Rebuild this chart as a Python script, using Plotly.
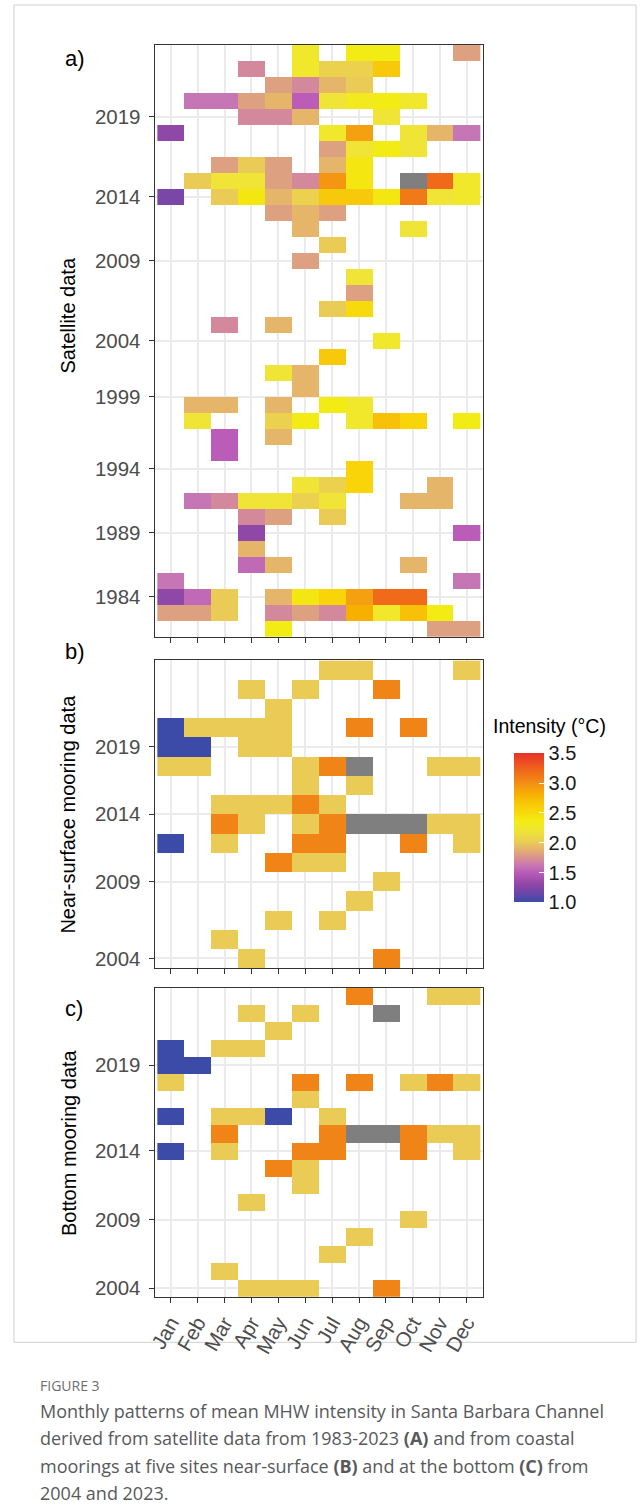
import plotly.graph_objects as go

W, H = 642, 1511
N = None

MONTHS = ["Jan", "Feb", "Mar", "Apr", "May", "Jun", "Jul", "Aug", "Sep", "Oct", "Nov", "Dec"]

# ---------------- Panel a: satellite data (rows bottom -> top) ----------------
SAT_YEARS = [1982, 1983, 1984, 1986, 1987, 1988, 1989, 1990, 1992, 1993, 1994,
             1995, 1996, 1997, 1998, 2001, 2002, 2003, 2004, 2005, 2006, 2007,
             2008, 2009, 2011, 2012, 2013, 2014, 2015, 2016, 2017, 2018, 2019,
             2020, 2021, 2022, 2023]
SAT_VALUES = [
    [N, N, N, N, 2.35, N, N, N, N, N, 1.8, 1.8],                 # 1982
    [1.8, 1.8, 2.0, N, 1.7, 1.8, 1.7, 2.8, 2.25, 2.7, 2.35, N],  # 1983
    [1.3, 1.55, 2.0, N, 1.9, 2.4, 2.55, 2.9, 3.2, 3.2, N, N],    # 1984
    [1.6, N, N, N, N, N, N, N, N, N, N, 1.6],                    # 1986
    [N, N, N, 1.55, 1.9, N, N, N, N, 1.9, N, N],                 # 1987
    [N, N, N, 1.9, N, N, N, N, N, N, N, N],                      # 1988
    [N, N, N, 1.3, N, N, N, N, N, N, N, 1.5],                    # 1989
    [N, N, N, 1.7, 1.8, N, 2.0, N, N, N, N, N],                  # 1990
    [N, 1.6, 1.7, 2.2, 2.2, 2.05, 2.2, N, N, 1.9, 1.9, N],       # 1992
    [N, N, N, N, N, 2.2, 2.05, 2.55, N, N, 1.9, N],              # 1993
    [N, N, N, N, N, N, N, 2.55, N, N, N, N],                     # 1994
    [N, N, 1.5, N, N, N, N, N, N, N, N, N],                      # 1995
    [N, N, 1.5, N, 1.9, N, N, N, N, N, N, N],                    # 1996
    [N, 2.2, N, N, 2.05, 2.35, N, 2.25, 2.7, 2.55, N, 2.35],     # 1997
    [N, 1.9, 1.9, N, 1.9, N, 2.35, 2.25, N, N, N, N],            # 1998
    [N, N, N, N, N, 1.9, N, N, N, N, N, N],                      # 2001
    [N, N, N, N, 2.2, 1.9, N, N, N, N, N, N],                    # 2002
    [N, N, N, N, N, N, 2.65, N, N, N, N, N],                     # 2003
    [N, N, N, N, N, N, N, N, 2.25, N, N, N],                     # 2004
    [N, N, 1.7, N, 1.9, N, N, N, N, N, N, N],                    # 2005
    [N, N, N, N, N, N, 2.0, 2.5, N, N, N, N],                    # 2006
    [N, N, N, N, N, N, N, 1.8, N, N, N, N],                      # 2007
    [N, N, N, N, N, N, N, 2.2, N, N, N, N],                      # 2008
    [N, N, N, N, N, 1.8, N, N, N, N, N, N],                      # 2009
    [N, N, N, N, N, N, 2.0, N, N, N, N, N],                      # 2011
    [N, N, N, N, N, 1.9, N, N, N, 2.2, N, N],                    # 2012
    [N, N, N, N, 1.8, 1.9, 1.8, N, N, N, N, N],                  # 2013
    [1.2, N, 2.0, 2.4, 1.9, 2.05, 2.65, 2.65, 2.4, 3.1, 2.2, 2.25],  # 2014
    [N, 2.0, 2.2, 2.2, 1.8, 1.7, 2.95, 2.4, N, 3.8, 3.2, 2.25],  # 2015
    [N, N, 1.8, 2.0, 1.8, N, 1.9, 2.4, N, N, N, N],              # 2016
    [N, N, N, N, N, N, 1.8, 2.2, 2.35, 2.2, N, N],               # 2017
    [1.3, N, N, N, N, N, 2.25, 2.9, N, 2.2, 1.9, 1.6],           # 2018
    [N, N, N, 1.7, 1.7, 1.9, N, N, 2.2, N, N, N],                # 2019
    [N, 1.6, 1.6, 1.8, 1.9, 1.5, 2.2, 2.3, 2.35, 2.25, N, N],    # 2020
    [N, N, N, N, 1.8, 1.7, 1.9, 2.0, N, N, N, N],                # 2021
    [N, N, N, 1.7, N, 2.25, 2.05, 2.05, 2.65, N, N, N],          # 2022
    [N, N, N, N, N, 2.25, N, 2.35, 2.35, N, N, 1.8],             # 2023
]
SAT_TICK_LABELS = ["1984", "1989", "1994", "1999", "2004", "2009", "2014", "2019"]

# ---------------- Panel b: near-surface moorings ----------------
NS_YEARS = [2004, 2005, 2006, 2008, 2009, 2013, 2014, 2015, 2016, 2017,
            2018, 2019, 2020, 2021, 2022, 2023]
NS_VALUES = [
    [N, N, N, 2.0, N, N, N, N, 3.05, N, N, N],                   # 2004
    [N, N, 2.0, N, N, N, N, N, N, N, N, N],                      # 2005
    [N, N, N, N, 2.0, N, 2.0, N, N, N, N, N],                    # 2006
    [N, N, N, N, N, N, N, 2.0, N, N, N, N],                      # 2008
    [N, N, N, N, N, N, N, N, 2.0, N, N, N],                      # 2009
    [N, N, N, N, 3.05, 2.0, 2.0, N, N, N, N, N],                 # 2013
    [1.0, N, 2.0, N, N, 3.05, 3.05, N, N, 3.05, N, 2.0],         # 2014
    [N, N, 3.05, 2.0, N, 2.0, 3.05, 3.8, 3.8, 3.8, 2.0, 2.0],    # 2015
    [N, N, 2.0, 2.0, 2.0, 3.05, 2.0, N, N, N, N, N],             # 2016
    [N, N, N, N, N, 2.0, N, 2.0, N, N, N, N],                    # 2017
    [2.0, 2.0, N, N, N, 2.0, 3.05, 3.8, N, N, 2.0, 2.0],         # 2018
    [1.0, 1.0, N, 2.0, 2.0, N, N, N, N, N, N, N],                # 2019
    [1.0, 2.0, 2.0, 2.0, 2.0, N, N, 3.05, N, 3.05, N, N],        # 2020
    [N, N, N, N, 2.0, N, N, N, N, N, N, N],                      # 2021
    [N, N, N, 2.0, N, 2.0, N, N, 3.05, N, N, N],                 # 2022
    [N, N, N, N, N, N, 2.0, 2.0, N, N, N, 2.0],                  # 2023
]
NS_TICK_LABELS = ["2004", "2009", "2014", "2019"]

# ---------------- Panel c: bottom moorings ----------------
BOT_YEARS = [2004, 2005, 2006, 2008, 2009, 2011, 2012, 2013, 2014, 2015,
             2016, 2017, 2018, 2019, 2020, 2021, 2022, 2023]
BOT_VALUES = [
    [N, N, N, 2.0, 2.0, 2.0, N, N, 3.05, N, N, N],               # 2004
    [N, N, 2.0, N, N, N, N, N, N, N, N, N],                      # 2005
    [N, N, N, N, N, N, 2.0, N, N, N, N, N],                      # 2006
    [N, N, N, N, N, N, N, 2.0, N, N, N, N],                      # 2008
    [N, N, N, N, N, N, N, N, N, 2.0, N, N],                      # 2009
    [N, N, N, 2.0, N, N, N, N, N, N, N, N],                      # 2011
    [N, N, N, N, N, 2.0, N, N, N, N, N, N],                      # 2012
    [N, N, N, N, 3.05, 2.0, N, N, N, N, N, N],                   # 2013
    [1.0, N, 2.0, N, N, 3.05, 3.05, N, N, 3.05, N, 2.0],         # 2014
    [N, N, 3.05, N, N, N, 3.05, 3.8, 3.8, 3.05, 2.0, 2.0],       # 2015
    [1.0, N, 2.0, 2.0, 1.0, N, 2.0, N, N, N, N, N],              # 2016
    [N, N, N, N, N, 2.0, N, N, N, N, N, N],                      # 2017
    [2.0, N, N, N, N, 3.05, N, 3.05, N, 2.0, 3.05, 2.0],         # 2018
    [1.0, 1.0, N, N, N, N, N, N, N, N, N, N],                    # 2019
    [1.0, N, 2.0, 2.0, N, N, N, N, N, N, N, N],                  # 2020
    [N, N, N, N, 2.0, N, N, N, N, N, N, N],                      # 2021
    [N, N, N, 2.0, N, 2.0, N, N, 3.8, N, N, N],                  # 2022
    [N, N, N, N, N, N, N, 3.05, N, N, 2.0, 2.0],                 # 2023
]
BOT_TICK_LABELS = ["2004", "2009", "2014", "2019"]

# ------------- axis tick placement (row units, as printed in the original) -------------
SAT_TICK_ROWS = [2, 6, 10, 14.5, 18, 23, 27, 32]
NS_TICK_ROWS = [0, 4, 7.5, 11]
BOT_TICK_ROWS = [0, 4, 8, 13]

LIMITS = (1.0, 3.5)
COLORBAR_TICKS = [1.0, 1.5, 2.0, 2.5, 3.0, 3.5]

# colour ramp (value, colour)
RAMP = [(1.0, "#3C4BA8"), (1.2, "#7A46A8"), (1.3, "#9048A8"), (1.5, "#BA5CB8"),
        (1.6, "#C676B4"), (1.7, "#D4889C"), (1.8, "#DDA080"), (1.9, "#E5B56A"),
        (2.0, "#E9CB55"), (2.2, "#F0E436"), (2.35, "#F3EC14"), (2.55, "#F8D408"),
        (2.65, "#F8C80A"), (2.8, "#F8B000"), (2.9, "#F5A010"), (3.1, "#F07A18"),
        (3.2, "#F06A1A"), (3.5, "#E8302A")]
COLORSCALE = [[(v - LIMITS[0]) / (LIMITS[1] - LIMITS[0]), c] for v, c in RAMP]
NA_GREY = "#7F7F7F"

FONT = "Liberation Sans, Arial, Helvetica, sans-serif"
TICK_COL = "#4D4D4D"
BORDER = "#333333"
GRID = "#EBEBEB"


def X(px):
    return px / W


def Y(py):
    return 1 - py / H


fig = go.Figure()

panels = [
    (SAT_YEARS, SAT_VALUES, SAT_TICK_LABELS, SAT_TICK_ROWS, 45.0, 638.0, "", False),
    (NS_YEARS, NS_VALUES, NS_TICK_LABELS, NS_TICK_ROWS, 661.7, 970.0, "2", False),
    (BOT_YEARS, BOT_VALUES, BOT_TICK_LABELS, BOT_TICK_ROWS, 990.0, 1299.3, "3", True),
]

x_left, x_right = 148.5, 480.7
for years, values, tlabels, trows, top, bottom, sfx, show_months in panels:
    rows = list(range(len(years)))
    cols = list(range(len(MONTHS)))
    inrange = [[v if (v is not None and LIMITS[0] <= v <= LIMITS[1]) else None for v in r] for r in values]
    oob = [[1 if (v is not None and not (LIMITS[0] <= v <= LIMITS[1])) else None for v in r] for r in values]
    hover = [[f"{MONTHS[j]} {years[i]}" for j in cols] for i in rows]
    fig.add_trace(go.Heatmap(
        x=cols, y=rows, z=inrange, coloraxis="coloraxis",
        text=hover, hovertemplate="%{text}: %{z:.2f} °C<extra></extra>",
        xaxis="x" + sfx, yaxis="y" + sfx))
    fig.add_trace(go.Heatmap(
        x=cols, y=rows, z=oob, colorscale=[[0, NA_GREY], [1, NA_GREY]], showscale=False,
        text=hover, hovertemplate="%{text}: NA<extra></extra>",
        xaxis="x" + sfx, yaxis="y" + sfx))

    xa = dict(domain=[X(x_left), X(x_right)], range=[-0.6, len(MONTHS) - 1 + 0.6],
              anchor="y" + sfx, tickmode="array", tickvals=cols,
              ticktext=MONTHS if show_months else [""] * len(MONTHS),
              ticks="outside", ticklen=5, tickwidth=1.2, tickcolor=BORDER,
              showline=True, linecolor=BORDER, linewidth=1.1, mirror=True,
              showgrid=True, gridcolor=GRID, gridwidth=1.6, zeroline=False,
              tickangle=-60 if show_months else 0,
              tickfont=dict(family=FONT, size=20.5, color=TICK_COL), fixedrange=True)
    ya = dict(domain=[Y(bottom), Y(top)], range=[-0.5, len(years) - 0.5],
              anchor="x" + sfx, tickmode="array", tickvals=trows, ticktext=tlabels,
              ticks="outside", ticklen=5, tickwidth=1.2, tickcolor=BORDER,
              showline=True, linecolor=BORDER, linewidth=1.1, mirror=True,
              showgrid=True, gridcolor=GRID, gridwidth=1.6, zeroline=False,
              ticklabelstandoff=4,
              tickfont=dict(family=FONT, size=20.5, color=TICK_COL), fixedrange=True)
    fig.layout["xaxis" + sfx] = xa
    fig.layout["yaxis" + sfx] = ya

fig.update_layout(
    width=W, height=H, margin=dict(l=0, r=0, t=0, b=0),
    paper_bgcolor="white", plot_bgcolor="white",
    font=dict(family=FONT, color="#1A1A1A"),
    coloraxis=dict(
        cmin=LIMITS[0], cmax=LIMITS[1], colorscale=COLORSCALE,
        colorbar=dict(
            x=X(512), xanchor="left", y=Y(829.5), yanchor="middle",
            xpad=0, ypad=0,
            len=149 / H, lenmode="fraction", thickness=30, outlinewidth=0,
            tickmode="array", tickvals=COLORBAR_TICKS,
            ticktext=[f"{v:.1f}" for v in COLORBAR_TICKS],
            ticks="inside", tickcolor="white", ticklen=5, tickwidth=1,
            tickfont=dict(family=FONT, size=20, color="#1A1A1A"),
        ),
    ),
    showlegend=False,
)

ann = []
# panel tags
for tag, py in (("a)", 59), ("b)", 653), ("c)", 1011)):
    ann.append(dict(text=tag, x=X(56), y=Y(py), xref="paper", yref="paper",
                    xanchor="left", yanchor="middle", showarrow=False,
                    font=dict(family=FONT, size=22, color="#000000")))
# y-axis titles
for title, py in (("Satellite data", 316), ("Near-surface mooring data", 816), ("Bottom mooring data", 1145)):
    ann.append(dict(text=title, x=X(61), y=Y(py), xref="paper", yref="paper",
                    xanchor="center", yanchor="middle", textangle=-90, showarrow=False,
                    font=dict(family=FONT, size=20, color="#000000")))
# legend title
ann.append(dict(text="Intensity (°C)", x=X(489), y=Y(727), xref="paper", yref="paper",
                xanchor="left", yanchor="middle", showarrow=False,
                font=dict(family=FONT, size=19.5, color="#000000")))
# caption
CAP_FONT = "Open Sans, Lato, sans-serif"
ann.append(dict(text="FIGURE 3", x=X(30), y=Y(1388), xref="paper", yref="paper",
                xanchor="left", yanchor="middle", showarrow=False,
                font=dict(family=CAP_FONT, size=14, color="#6D6E70")))
CAPTION = [
    "Monthly patterns of mean MHW intensity in Santa Barbara Channel",
    "derived from satellite data from 1983-2023 <b>(A)</b> and from coastal",
    "moorings at five sites near-surface <b>(B)</b> and at the bottom <b>(C)</b> from",
    "2004 and 2023.",
]
for i, line in enumerate(CAPTION):
    ann.append(dict(text=line, x=X(30), y=Y(1413.5 + 27.5 * i), xref="paper", yref="paper",
                    xanchor="left", yanchor="middle", showarrow=False,
                    font=dict(family=CAP_FONT, size=18, color="#58595B")))
fig.update_layout(annotations=ann)

# thin frame around the figure artwork
fig.add_shape(type="rect", xref="paper", yref="paper", x0=X(6), x1=X(636), y0=Y(1345), y1=Y(5),
              line=dict(color="#D0D0D0", width=1), fillcolor="rgba(0,0,0,0)", layer="below")

fig.write_html("out.html", config={"displayModeBar": False},
               post_script="document.body.style.margin='0px';")
